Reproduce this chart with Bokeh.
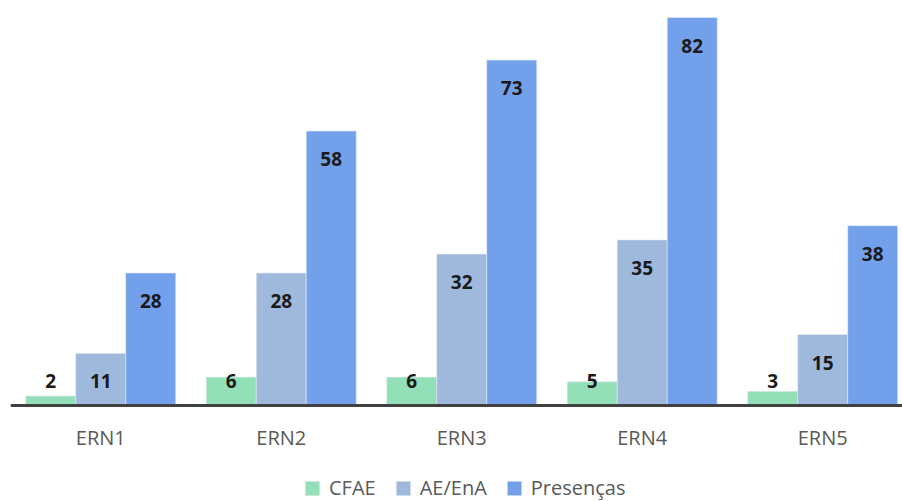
from bokeh.plotting import figure
from bokeh.models import ColumnDataSource, Range1d, Legend, LegendItem, Span
from bokeh.transform import dodge
from bokeh.core.properties import value
from bokeh.embed import file_html
from bokeh.resources import INLINE

categories = ["ERN1", "ERN2", "ERN3", "ERN4", "ERN5"]
cfae = [2, 6, 6, 5, 3]
ae_ena = [11, 28, 32, 35, 15]
presencas = [28, 58, 73, 82, 38]
series_names = ["CFAE", "AE/EnA", "Presenças"]
colors = ["#93dfb8", "#9fb9dc", "#73a0eb"]

pos = list(range(len(categories)))
src = ColumnDataSource(dict(
    x=pos,
    cat=categories,
    cfae=cfae, ae=ae_ena, pres=presencas,
    cfae_t=[str(v) for v in cfae],
    ae_t=[str(v) for v in ae_ena],
    pres_t=[str(v) for v in presencas],
    zero=[0] * len(pos),
))

p = figure(width=902, height=501, output_backend="svg", toolbar_location=None,
           x_range=Range1d(-0.5, 4.442), y_range=Range1d(-20.3, 85.6),
           min_border_left=10, min_border_right=0, min_border_top=0,
           min_border_bottom=0)
p.outline_line_color = None
p.grid.visible = False
p.xaxis.visible = False
p.yaxis.visible = False
p.background_fill_color = "white"
p.border_fill_color = "white"

w = 0.277
bar_line = dict(line_color="#e6ebf2", line_width=1, line_alpha=0.6)
r1 = p.vbar(x=dodge("x", -w, range=p.x_range), top="cfae", width=w, source=src,
            fill_color=colors[0], **bar_line)
r2 = p.vbar(x=dodge("x", 0, range=p.x_range), top="ae", width=w, source=src,
            fill_color=colors[1], **bar_line)
r3 = p.vbar(x=dodge("x", w, range=p.x_range), top="pres", width=w, source=src,
            fill_color=colors[2], **bar_line)

# baseline (category axis line)
p.add_layout(Span(location=0, dimension="width", line_color="#404040", line_width=3))

lab = dict(text_font=value("Open Sans"), text_font_style="bold", text_font_size="19px",
           text_color="#1a1a1a", text_align="center", text_baseline="middle", source=src)
p.text(x=dodge("x", -w, range=p.x_range), y="zero", text="cfae_t", y_offset=-24, **lab)
p.text(x=dodge("x", 0, range=p.x_range), y="ae", text="ae_t", y_offset=28, **lab)
p.text(x=dodge("x", w, range=p.x_range), y="pres", text="pres_t", y_offset=28, **lab)

# category tick labels
p.text(x="x", y="zero", text="cat", y_offset=32, source=src,
       text_font=value("Open Sans"), text_font_size="20px", text_color="#595959",
       text_align="center", text_baseline="middle")

legend = Legend(items=[LegendItem(label=series_names[0], renderers=[r1]),
                       LegendItem(label=series_names[1], renderers=[r2]),
                       LegendItem(label=series_names[2], renderers=[r3])],
                orientation="horizontal", location=(293, 0),
                glyph_width=18, glyph_height=18, label_standoff=8, spacing=18,
                padding=2, margin=0, border_line_color=None,
                background_fill_alpha=0,
                label_text_font="Open Sans", label_text_font_size="20px",
                label_text_color="#595959")
p.add_layout(legend, "center")

open("out.html", "w").write(file_html(p, INLINE))
